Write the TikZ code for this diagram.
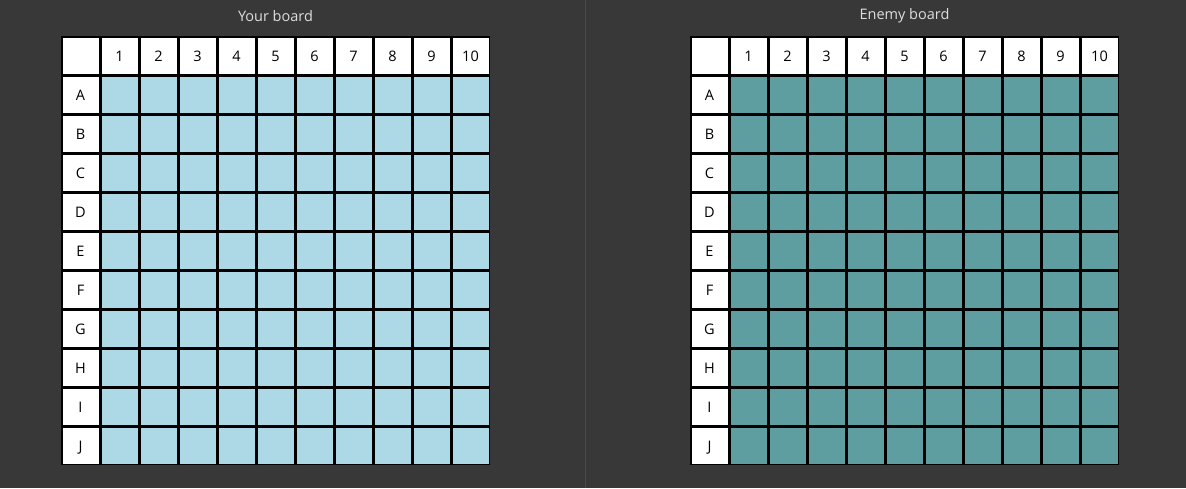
\documentclass[tikz,border=0pt]{standalone}
\usepackage{fontspec}
\setmainfont{Open Sans}
\definecolor{bg}{HTML}{383838}
\definecolor{divc}{HTML}{4A4A4A}
\definecolor{mine}{HTML}{ADD8E6}
\definecolor{enemy}{HTML}{5F9EA0}
\definecolor{titlec}{HTML}{DDDDDD}
\tikzset{
  cellbox/.style={draw=black,line width=1.5pt,minimum size=37.5pt,inner sep=0pt,
    text height=12.5pt,text depth=0pt,
    font=\fontsize{14.5}{16}\selectfont,text=black},
  labelcell/.style={cellbox,fill=white},
  titletext/.style={text=titlec,font=\fontsize{14.5}{17}\selectfont,inner sep=0pt}
}
\begin{document}
\begin{tikzpicture}[x=1pt,y=-1pt]
\useasboundingbox (0,0) rectangle (1186,488);
\fill[bg] (0,0) rectangle (1186,488);
\coordinate (divtop) at (585.5,0);
\coordinate (divbot) at (585.5,488);
\draw[divc,line width=1pt] (divtop) -- (divbot);
\node[titletext] (titleL) at (275.5,16) {Your board};
\node[titletext] (titleR) at (904.5,16) {Enemy board};
\foreach \side/\xo/\col in {L/61/mine,R/690/enemy}{
  \node[labelcell] (\side-corner) at (\xo+19.5,36+19.5) {};
  \foreach \i in {1,...,10}{
    \node[labelcell] (\side-h-\i) at (\xo+19.5+39*\i,36+19.5) {\i};
  }
  \foreach \r [count=\j] in {A,B,C,D,E,F,G,H,I,J}{
    \node[labelcell] (\side-\r) at (\xo+19.5,36+19.5+39*\j) {\r};
    \foreach \i in {1,...,10}{
      \node[cellbox,fill=\col] (\side-\r-\i) at (\xo+19.5+39*\i,36+19.5+39*\j) {};
    }
  }
}
\end{tikzpicture}
\end{document}
